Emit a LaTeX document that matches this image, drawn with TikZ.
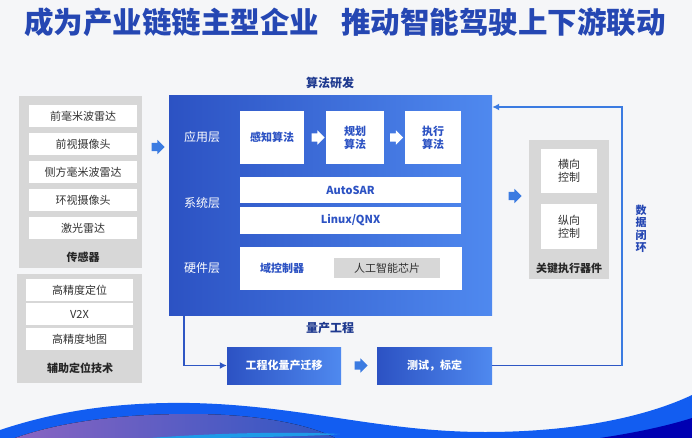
\documentclass[tikz,border=0pt]{standalone}
\usepackage{fontspec}
\setmainfont{Noto Sans CJK SC}
\usetikzlibrary{positioning,shapes.arrows,arrows.meta}

\definecolor{bggray}{HTML}{F5F6F8}
\definecolor{titleblue}{HTML}{2547B3}
\definecolor{deepblue}{HTML}{2C52C3}
\definecolor{lightblue}{HTML}{4F89EF}
\definecolor{boxgray}{HTML}{D7D7D7}
\definecolor{loopblue}{HTML}{3B7BE1}
\definecolor{linkblue}{HTML}{2E56C4}
\definecolor{txtgray}{HTML}{333333}
\definecolor{wavepurple}{HTML}{6B3DB2}
\definecolor{wavecyan}{HTML}{1E9BE8}

\tikzset{
	item/.style={fill=white, minimum width=108pt, minimum height=22pt, inner sep=0pt,
		font=\fontsize{11}{12}\selectfont, text=txtgray},
	grouplabel/.style={font=\fontsize{11}{12}\selectfont\bfseries, text=black!85},
	layer/.style={font=\fontsize{12}{13}\selectfont, text=white},
	algbox/.style={fill=white, minimum height=53pt, inner sep=0pt, align=center,
		font=\fontsize{11}{13}\selectfont\bfseries, text=deepblue},
	sysbox/.style={fill=white, minimum width=221pt, inner sep=0pt,
		font=\fontsize{11}{12}\selectfont\bfseries, text=deepblue},
	ctrlbox/.style={fill=white, minimum width=56pt, inner sep=0pt, align=center,
		font=\fontsize{11}{13}\selectfont, text=txtgray},
	flowbox/.style={left color=deepblue, right color=lightblue, minimum width=114pt,
		minimum height=37pt, inner sep=0pt, font=\fontsize{11}{12}\selectfont\bfseries, text=white},
	heading/.style={font=\fontsize{12}{13}\selectfont\bfseries, text=titleblue!80!black},
	blockarrow/.style={single arrow, fill=#1, minimum height=13pt, inner sep=4pt,
		single arrow head extend=3pt},
	blockarrow/.default=loopblue,
}

\begin{document}
\begin{tikzpicture}[x=1pt,y=-1pt]
	\fill[bggray] (0,0) rectangle (692,438);
	\useasboundingbox (0,0) rectangle (692,438);

	% wave at the bottom
	\begin{scope}
		\clip (0,0) rectangle (692,438);
		\fill[wavecyan!60!blue] (0,430) .. controls (60,410) and (120,402) .. (190,403)
			.. controls (300,405) and (380,432) .. (485,432)
			.. controls (580,432) and (650,415) .. (692,395) -- (692,438) -- (0,438) -- cycle;
		\fill[left color=wavepurple!80, right color=linkblue] (15,438) .. controls (60,422) and (120,414) .. (190,414)
			.. controls (260,414) and (310,425) .. (335,438) -- cycle;
		\fill[wavecyan] (150,438) .. controls (230,432) and (300,432) .. (340,434)
			.. controls (320,436) and (260,437) .. (220,438) -- cycle;
		\fill[blue!70!black] (600,438) .. controls (640,432) and (670,425) .. (692,418) -- (692,438) -- cycle;
	\end{scope}

	% title
	\node[font=\fontsize{29.5}{31}\selectfont\bfseries, text=titleblue] (title) at (345,22)
		{成为产业链链主型企业\hspace{0.75em}推动智能驾驶上下游联动};

	% sensors
	\fill[boxgray] (19,96) rectangle (142,268);
	\node[item] (s1) at (83,116) {前毫米波雷达};
	\node[item] (s2) at (83,144) {前视摄像头};
	\node[item] (s3) at (83,172) {侧方毫米波雷达};
	\node[item] (s4) at (83,200) {环视摄像头};
	\node[item] (s5) at (83,228) {激光雷达};
	\node[grouplabel] (sensors) at (83,257) {传感器};

	% positioning aids
	\fill[boxgray] (17,274) rectangle (142,383);
	\node[item, minimum width=107pt] (p1) at (79.5,290) {高精度定位};
	\node[item, minimum width=107pt] (p2) at (79.5,314) {V2X};
	\node[item, minimum width=107pt] (p3) at (79.5,339) {高精度地图};
	\node[grouplabel] (aids) at (80,368) {辅助定位技术};

	\node[blockarrow] (inarrow) at (156,147) {};

	% algorithm development
	\node[heading] (algtitle) at (330,83) {算法研发};
	\node[left color=deepblue, right color=lightblue, minimum width=323pt, minimum height=219pt,
		inner sep=0pt] (main) at (330.5,205.5) {};
	\node[layer] (applayer) at (202,137) {应用层};
	\node[layer] (syslayer) at (202,203) {系统层};
	\node[layer] (hwlayer) at (202,268) {硬件层};

	\node[algbox, minimum width=64pt] (perceive) at (272,137.5) {感知算法};
	\node[algbox, minimum width=58pt] (plan) at (355,137.5) {规划\\算法};
	\node[algbox, minimum width=56pt] (execute) at (433,137.5) {执行\\算法};
	\node[blockarrow=white] (a1) at (316,137.5) {};
	\node[blockarrow=white] (a2) at (394.5,137.5) {};

	\node[sysbox, minimum height=26pt] (autosar) at (350.5,190) {AutoSAR};
	\node[sysbox, minimum height=27pt] (linux) at (350.5,220.5) {Linux/QNX};

	\node[fill=white, minimum width=222pt, minimum height=43pt, inner sep=0pt] (hw) at (351,268.5) {};
	\node[font=\fontsize{11}{12}\selectfont\bfseries, text=deepblue] (domain) at (282,268) {域控制器};
	\node[fill=boxgray, minimum width=106pt, minimum height=20pt, inner sep=0pt,
		font=\fontsize{11}{12}\selectfont, text=txtgray] (chip) at (387,268) {人工智能芯片};

	% actuators
	\node[blockarrow] (outarrow) at (513,196) {};
	\fill[boxgray] (529,140) rectangle (609,279);
	\node[ctrlbox, minimum height=44pt] (lateral) at (569,171) {横向\\控制};
	\node[ctrlbox, minimum height=45pt] (longit) at (569,226.5) {纵向\\控制};
	\node[grouplabel] (actuators) at (569,268) {关键执行器件};

	% mass production
	\node[heading] (mptitle) at (330,328) {量产工程};
	\node[flowbox] (migrate) at (284,365.5) {工程化量产迁移};
	\node[flowbox, minimum width=115pt] (test) at (434.5,365.5) {测试，标定};
	\node[blockarrow] (a3) at (359,365.5) {};

	\coordinate (drop) at ([xshift=15pt]main.south west);
	\coordinate (loopturn) at (622,107);
	\draw[linkblue, line width=1.5pt, -{Latex[length=7pt,width=7pt]}] (drop) |- (migrate.west);
	\draw[linkblue, line width=1.5pt] (test.east) -| (loopturn |- test.east);
	\draw[loopblue, line width=1.5pt, -{Latex[length=7pt,width=7pt]}]
		(loopturn |- test.east) -- (loopturn) -- (loopturn -| main.east);

	\node[font=\fontsize{11}{12.5}\selectfont\bfseries, text=titleblue, align=center] (loop) at (641,229)
		{数\\据\\闭\\环};
\end{tikzpicture}
\end{document}
